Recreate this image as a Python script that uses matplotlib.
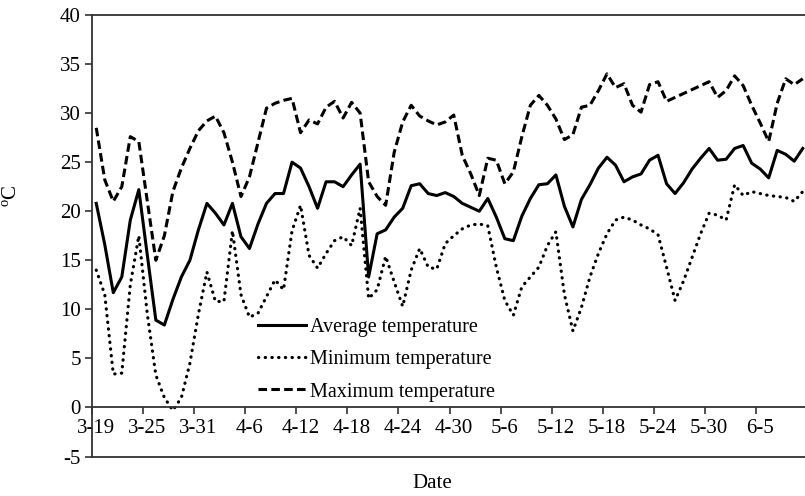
import numpy as np
import pandas as pd
import matplotlib
matplotlib.use('Agg')
import matplotlib.pyplot as plt
from matplotlib.ticker import FixedLocator

plt.rcParams['font.family'] = ['Liberation Serif', 'DejaVu Serif']
plt.rcParams['mathtext.default'] = 'regular'
plt.rcParams['axes.unicode_minus'] = False

# daily dates, 3-19 .. 6-10
days = pd.date_range('2020-03-19', periods=84)
date_labels = ['{}-{}'.format(d.month, d.day) for d in days]

avg_temp = [20.8, 16.6, 11.7, 13.3, 19.1, 22.2, 15.5, 8.9, 8.4, 11.0,
            13.3, 15.0, 18.1, 20.8, 19.8, 18.6, 20.8, 17.4, 16.2, 18.7,
            20.8, 21.8, 21.8, 25.0, 24.4, 22.5, 20.3, 23.0, 23.0, 22.5,
            23.7, 24.8, 13.3, 17.7, 18.1, 19.4, 20.3, 22.6, 22.8, 21.8,
            21.6, 21.9, 21.5, 20.8, 20.4, 20.0, 21.3, 19.4, 17.2, 17.0,
            19.5, 21.3, 22.7, 22.8, 23.7, 20.5, 18.4, 21.2, 22.7, 24.4,
            25.5, 24.7, 23.0, 23.5, 23.8, 25.2, 25.7, 22.8, 21.8, 22.9,
            24.3, 25.4, 26.4, 25.2, 25.3, 26.4, 26.7, 24.9, 24.3, 23.4,
            26.2, 25.8, 25.1, 26.4]

min_temp = [14.0, 11.5, 3.4, 3.5, 12.5, 17.5, 9.5, 3.3, 1.0, -0.3,
            1.0, 4.5, 9.5, 13.8, 10.8, 10.8, 18.0, 11.5, 9.2, 9.6,
            11.3, 13.0, 12.0, 18.0, 20.6, 15.5, 14.2, 15.7, 17.0, 17.4,
            16.5, 20.3, 11.1, 12.0, 15.4, 12.8, 10.3, 14.0, 16.2, 14.3,
            14.1, 16.7, 17.5, 18.2, 18.6, 18.7, 18.5, 14.3, 10.9, 9.4,
            12.3, 13.3, 14.3, 16.5, 17.9, 11.5, 7.8, 10.2, 13.3, 15.7,
            17.7, 19.1, 19.4, 19.1, 18.6, 18.2, 17.6, 14.3, 10.9, 12.9,
            15.3, 17.7, 19.8, 19.6, 19.1, 22.7, 21.6, 22.0, 21.8, 21.6,
            21.5, 21.4, 21.0, 22.0]

max_temp = [28.5, 23.2, 21.0, 22.5, 27.6, 27.1, 21.0, 15.0, 17.5, 22.0,
            24.4, 26.4, 28.2, 29.2, 29.7, 28.0, 25.0, 21.5, 23.5, 27.0,
            30.5, 31.0, 31.3, 31.5, 28.0, 29.3, 28.9, 30.6, 31.2, 29.5,
            31.1, 30.0, 23.0, 21.5, 20.6, 26.0, 29.1, 30.8, 29.7, 29.2,
            28.8, 29.1, 29.8, 25.7, 23.8, 21.6, 25.4, 25.2, 22.8, 24.0,
            27.6, 30.8, 31.8, 30.8, 29.4, 27.3, 27.8, 30.6, 30.8, 32.3,
            34.0, 32.6, 33.0, 30.8, 30.1, 32.9, 33.2, 31.2, 31.6, 32.0,
            32.4, 32.8, 33.2, 31.6, 32.3, 33.8, 32.8, 30.8, 29.0, 27.1,
            31.0, 33.5, 32.9, 33.5]

n = len(date_labels)
x = np.arange(n) + 0.5

fig = plt.figure(figsize=(8.05, 4.96), dpi=100)
ax = fig.add_axes([92/805, (496-456.5)/496, (807-92)/805, (456.5-15)/496])

ax.plot(x, avg_temp, color='black', lw=2.2, label='Average temperature')
ax.plot(x, min_temp, color='black', lw=2.3, linestyle=(0, (0.1, 2.0)),
        dash_capstyle='round', label='Minimum temperature')
ax.plot(x, max_temp, color='black', lw=2.2, linestyle=(0, (2.8, 1.4)),
        label='Maximum temperature')

ax.set_xlim(0, n)
ax.set_ylim(-5, 40)
ax.set_yticks(range(-5, 41, 5))

spine_col = '#333333'
ax.spines['right'].set_visible(False)
ax.spines['top'].set_color(spine_col)
ax.spines['left'].set_color(spine_col)
ax.spines['bottom'].set_color(spine_col)
ax.spines['bottom'].set_position(('data', 0))
ax.spines['left'].set_linewidth(1.3)
ax.spines['top'].set_linewidth(1.3)
ax.spines['bottom'].set_linewidth(1.3)
# frame line at the bottom of the plot
ax.axhline(-5, color=spine_col, lw=1.3, clip_on=False)

# tick marks at category borders, labels at category centres
tick_pos = list(range(0, n - 5, 6))
ax.xaxis.set_major_locator(FixedLocator(tick_pos))
ax.set_xticklabels([''] * len(tick_pos))
ax.xaxis.set_minor_locator(FixedLocator([p + 0.5 for p in tick_pos]))
ax.set_xticklabels([date_labels[p] for p in tick_pos], minor=True)
ax.tick_params(axis='x', which='major', direction='out', length=5,
               width=1.2, color=spine_col)
ax.tick_params(axis='x', which='minor', length=0, pad=8, labelsize=15)
ax.tick_params(axis='y', direction='out', length=5, width=1.2,
               color=spine_col, labelsize=15, pad=3)

ax.set_ylabel('$^{o}$C', fontsize=15)
ax.yaxis.set_label_coords(-0.1, 0.59)
fig.text(432/805, 1 - 484/496, 'Date', ha='center', va='center', fontsize=15)

leg = ax.legend(loc='upper left', bbox_to_anchor=(250/805, 1 - 310/496),
                bbox_transform=fig.transFigure, frameon=False, fontsize=14.5,
                handlelength=2.4, handletextpad=0.2, labelspacing=0.65,
                borderaxespad=0)

fig.savefig('out.png', dpi=100)
